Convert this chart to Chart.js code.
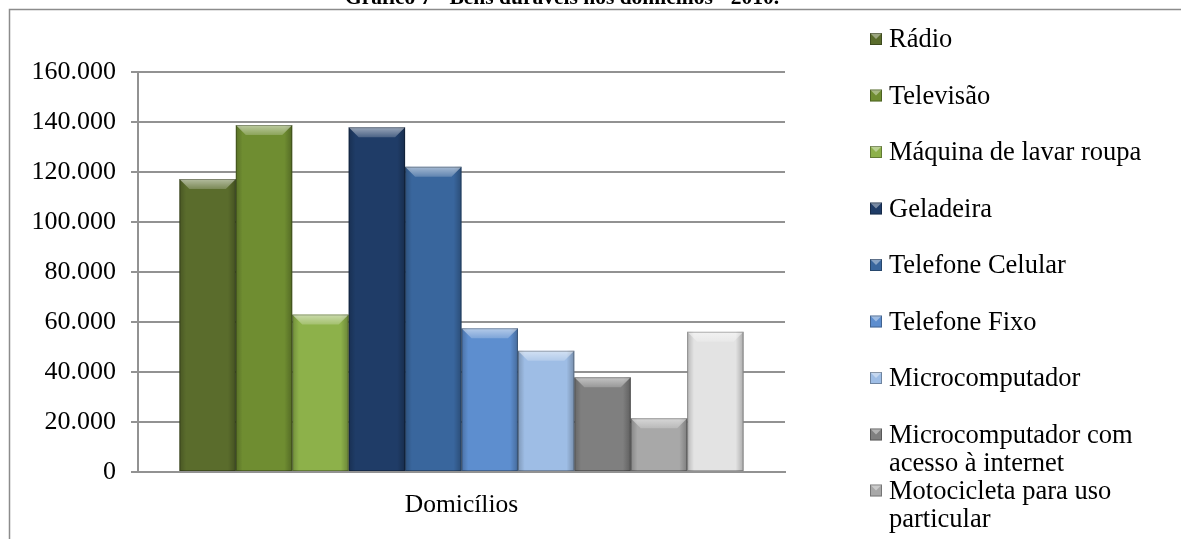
<!DOCTYPE html>
<html><head><meta charset="utf-8">
<script src="https://cdn.jsdelivr.net/npm/chart.js@4.4.1/dist/chart.umd.min.js"></script>
<style>html,body{margin:0;padding:0;background:#fff;} #wrap{width:1181px;height:539px;position:relative;overflow:hidden;}</style>
</head><body><div id="wrap"><canvas id="c" width="1181" height="539"></canvas></div>
<script>
const titleText = 'Gráfico 7 - Bens duráveis nos domicílios - 2010.';
const categories = ['Domicílios'];
const seriesNames = [
  ['Rádio'], ['Televisão'], ['Máquina de lavar roupa'], ['Geladeira'],
  ['Telefone Celular'], ['Telefone Fixo'], ['Microcomputador'],
  ['Microcomputador com', 'acesso à internet'], ['Motocicleta para uso', 'particular'],
  ['Automóvel para uso', 'particular']
];
const seriesValues = [117200, 138800, 63000, 137900, 122100, 57500, 48500, 37900, 21500, 56100];
const seriesColors = ['#5a6c2c', '#6f8d31', '#8db14a', '#1f3c67', '#39669d', '#5d8ecf', '#9ebde5', '#7f7f7f', '#a8a8a8', '#e3e3e3'];
const yTickLabels = ['0', '20.000', '40.000', '60.000', '80.000', '100.000', '120.000', '140.000', '160.000'];

const FONT = '"Liberation Serif", "Times New Roman", serif';
const GRID = '#929292';

const frameTitlePlugin = {
  id: 'frameTitle',
  beforeDraw(chart) {
    const ctx = chart.ctx;
    ctx.save();
    ctx.strokeStyle = '#8c8c8c';
    ctx.lineWidth = 1.5;
    ctx.strokeRect(9.5, 9.5, 1400, 800);
    ctx.fillStyle = '#000';
    ctx.font = 'bold 21.5px ' + FONT;
    ctx.textAlign = 'center';
    ctx.textBaseline = 'alphabetic';
    ctx.fillText(titleText, 562, 4);
    ctx.restore();
  }
};

const bevelPlugin = {
  id: 'bevel',
  afterDatasetsDraw(chart) {
    const ctx = chart.ctx;
    chart.data.datasets.forEach((ds, i) => {
      const meta = chart.getDatasetMeta(i);
      meta.data.forEach(el => {
        const w = el.width, l = el.x - w / 2, r = el.x + w / 2, t = el.y, b = el.base;
        const h = b - t;
        const bv = Math.min(10, h / 2);
        ctx.save();
        let g = ctx.createLinearGradient(l, 0, r, 0);
        g.addColorStop(0, 'rgba(0,0,0,0.20)');
        g.addColorStop(0.12, 'rgba(0,0,0,0)');
        g.addColorStop(0.86, 'rgba(0,0,0,0)');
        g.addColorStop(1, 'rgba(0,0,0,0.25)');
        ctx.fillStyle = g;
        ctx.fillRect(l, t, w, h);
        // top bevel
        let gt = ctx.createLinearGradient(0, t, 0, t + bv);
        gt.addColorStop(0, 'rgba(255,255,255,0.55)');
        gt.addColorStop(1, 'rgba(255,255,255,0.2)');
        ctx.fillStyle = gt;
        ctx.beginPath();
        ctx.moveTo(l, t); ctx.lineTo(r, t); ctx.lineTo(r - bv, t + bv); ctx.lineTo(l + bv, t + bv); ctx.closePath();
        ctx.fill();
        ctx.strokeStyle = 'rgba(0,0,0,0.28)';
        ctx.lineWidth = 1;
        ctx.strokeRect(l + 0.5, t + 0.5, w - 1, h - 1);
        ctx.restore();
      });
    });
  }
};

const legendPlugin = {
  id: 'sideLegend',
  afterDraw(chart) {
    const ctx = chart.ctx;
    ctx.save();
    ctx.font = '26.5px ' + FONT;
    ctx.textAlign = 'left';
    ctx.textBaseline = 'alphabetic';
    let y = 47;
    chart.data.datasets.forEach((ds, i) => {
      const lines = ds.label;
      if (y > chart.height) return;
      const col = ds.backgroundColor;
      const mx = 870, my = y - 14, ms = 12;
      ctx.fillStyle = col;
      ctx.fillRect(mx, my, ms, ms);
      ctx.fillStyle = 'rgba(255,255,255,0.4)';
      ctx.beginPath();
      ctx.moveTo(mx, my); ctx.lineTo(mx + ms, my); ctx.lineTo(mx + ms / 2, my + ms / 2); ctx.closePath();
      ctx.fill();
      ctx.strokeStyle = 'rgba(0,0,0,0.3)';
      ctx.lineWidth = 1;
      ctx.strokeRect(mx + 0.5, my + 0.5, ms - 1, ms - 1);
      ctx.fillStyle = '#000';
      lines.forEach((ln, k) => ctx.fillText(ln, 889, y + k * 28));
      y += lines.length * 28 + (lines.length === 1 ? 28.5 : 0);
    });
    ctx.restore();
  }
};

const datasets = seriesNames.map((name, i) => ({
  label: name,
  data: [seriesValues[i]],
  backgroundColor: seriesColors[i],
  borderWidth: 0,
  categoryPercentage: 0.872,
  barPercentage: 1.0
}));

new Chart(document.getElementById('c'), {
  type: 'bar',
  data: { labels: categories, datasets },
  options: {
    responsive: false,
    animation: false,
    devicePixelRatio: 1,
    layout: { padding: { left: 10, top: 72, right: 396, bottom: 0 } },
    plugins: { legend: { display: false }, title: { display: false }, tooltip: { enabled: false } },
    scales: {
      x: {
        afterFit(s) { s.height = 67; },
        grid: { display: true, drawOnChartArea: false, drawTicks: false },
        border: { display: true, color: GRID, width: 2 },
        ticks: { color: '#000', font: { family: FONT, size: 25.5 }, padding: 18 }
      },
      y: {
        min: 0, max: 160000,
        afterFit(s) { s.width = 128; },
        grid: { color: GRID, lineWidth: 2, tickLength: 7, drawTicks: true },
        border: { display: true, color: GRID, width: 2 },
        ticks: {
          stepSize: 20000, color: '#000', padding: 15,
          font: { family: FONT, size: 26 },
          callback: (v, idx) => yTickLabels[idx]
        }
      }
    }
  },
  plugins: [frameTitlePlugin, bevelPlugin, legendPlugin]
});
</script></body></html>
